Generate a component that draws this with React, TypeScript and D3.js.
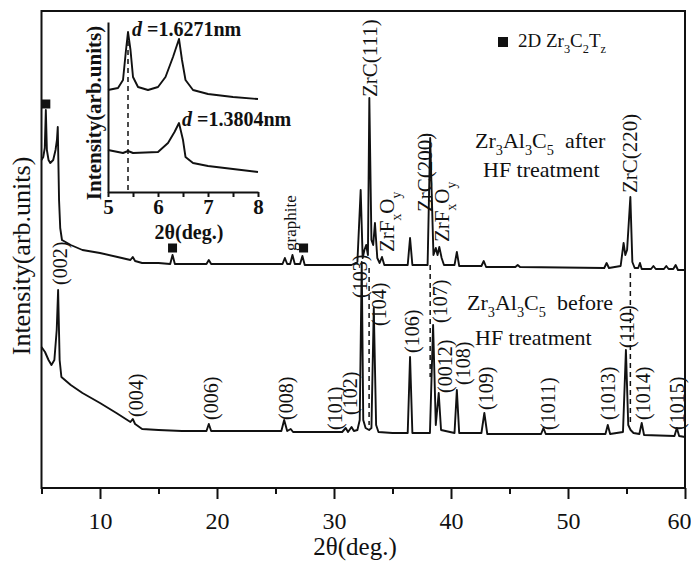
import React, { useEffect, useRef } from "react";
import * as d3 from "d3";

type Pt = [number, number];
type Label = [string, number, number];

// 2θ (deg.) / intensity (arb.units)
const afterHF: Pt[] = [
  [5.0, 328], [5.15, 331], [5.28, 340], [5.37, 378], [5.46, 338], [5.6, 328], [5.75, 325], [6.0, 328],
  [6.2, 338], [6.32, 348], [6.39, 361], [6.5, 288], [6.6, 260], [6.75, 248], [7.5, 243], [8.5, 238],
  [10, 235], [11.5, 231], [12.6, 228], [12.8, 231], [13.0, 227], [13.6, 225], [15, 225], [16.0, 224],
  [16.2, 233], [16.4, 224], [19.1, 224], [19.3, 228], [19.5, 224], [25.6, 224], [25.8, 230], [26.0, 224],
  [26.25, 224], [26.45, 233], [26.65, 224], [27.1, 224], [27.3, 232], [27.5, 223], [31.5, 223], [32.0, 226],
  [32.28, 298], [32.45, 230], [32.6, 238], [32.75, 243], [32.9, 233], [33.02, 390], [33.2, 248], [33.35, 243],
  [33.5, 265], [33.7, 230], [33.9, 225], [34.1, 231], [34.3, 223], [36.3, 223], [36.5, 250], [36.7, 223],
  [38.0, 223], [38.22, 350], [38.5, 233], [38.7, 240], [38.85, 233], [39.0, 241], [39.2, 230], [39.4, 223],
  [40.3, 223], [40.5, 236], [40.7, 222], [42.6, 222], [42.8, 227], [43.0, 221], [45.5, 221], [45.7, 223],
  [45.9, 221], [53.1, 220], [53.3, 225], [53.5, 220], [54.5, 222], [54.75, 245], [54.9, 233], [55.05, 238],
  [55.33, 291], [55.5, 226], [55.7, 220], [56.0, 220], [56.15, 225], [56.3, 219], [57.1, 219], [57.3, 222],
  [57.5, 219], [58.2, 219], [58.4, 222], [58.6, 219], [59.0, 219], [59.2, 223], [59.4, 218], [60, 218],
];

const beforeHF: Pt[] = [
  [5.0, 141], [5.3, 136], [5.6, 128], [5.85, 123], [6.1, 128], [6.3, 158], [6.42, 198], [6.55, 128],
  [6.7, 111], [7.5, 103], [8.5, 95], [10, 85], [11.4, 75], [12.6, 66], [12.8, 69], [13.0, 64],
  [13.6, 59], [15, 58], [17, 57], [19.1, 57], [19.3, 64], [19.5, 57], [22, 57], [25.5, 57],
  [25.74, 68], [26.0, 57], [26.3, 59], [26.5, 56], [28, 56], [30.7, 56], [31.0, 60], [31.2, 56],
  [31.5, 61], [31.7, 57], [32.0, 58], [32.2, 68], [32.37, 226], [32.5, 68], [32.7, 60], [33.0, 58],
  [33.2, 60], [33.4, 180], [33.6, 63], [33.8, 56], [35, 55], [36.3, 55], [36.5, 131], [36.7, 55],
  [38.2, 55], [38.47, 163], [38.7, 63], [38.95, 95], [39.15, 58], [40.3, 55], [40.5, 98], [40.7, 55],
  [42.6, 55], [42.85, 75], [43.1, 54], [47.7, 54], [47.9, 60], [48.1, 54], [50.5, 54], [53.2, 54],
  [53.4, 63], [53.6, 54], [54.7, 56], [54.95, 138], [55.15, 63], [55.35, 58], [55.6, 55], [56.1, 54],
  [56.3, 65], [56.5, 53], [59.1, 52], [59.3, 60], [59.5, 52], [60, 51],
];

// inset, 5-8 deg.
const insetAfter: Pt[] = [
  [5.0, 102], [5.2, 104], [5.3, 112], [5.36, 142], [5.4, 160], [5.45, 142], [5.5, 115], [5.6, 105],
  [5.8, 102], [6.0, 105], [6.15, 115], [6.3, 135], [6.42, 153], [6.48, 132], [6.55, 112], [6.7, 102],
  [7.0, 98], [7.5, 95], [8.0, 93],
];
const insetBefore: Pt[] = [
  [5.0, 42], [5.3, 39], [5.4, 41], [5.5, 39], [6.0, 40], [6.2, 49], [6.33, 60], [6.42, 69],
  [6.5, 52], [6.55, 35], [6.7, 29], [7.0, 26], [7.5, 23], [8.0, 20],
];

const xTicks = [10, 20, 30, 40, 50, 60];
const xMinorTicks = [5, 15, 25, 35, 45, 55];
const insetTicks = [5, 5.5, 6, 6.5, 7, 7.5, 8];

// ■ 2D Zr3C2Tz reflections
const mxenePeaks: Pt[] = [[5.37, 384], [16.2, 240], [27.4, 240]];

// [text, 2θ, intensity at the foot of the label]
const afterLabels: Label[] = [
  ["ZrC(111)", 33.07, 391],
  ["ZrC(200)", 37.78, 276],
  ["ZrC(220)", 55.3, 295],
  ["ZrF_xO_y", 34.53, 236],
  ["ZrF_xO_y", 39.23, 246],
];
const beforeLabels: Label[] = [
  ["(002)", 6.58, 203], ["(004)", 13.08, 71], ["(006)", 19.49, 68], ["(008)", 25.9, 68],
  ["(101)", 30.08, 58], ["(102)", 31.37, 73], ["(103)", 32.22, 190], ["(104)", 33.85, 162],
  ["(106)", 36.67, 135], ["(107)", 39.06, 165], ["(0012)", 39.49, 95], ["(108)", 41.03, 103],
  ["(109)", 42.99, 78], ["(1011)", 48.29, 58], ["(1013)", 53.42, 68], ["(110)", 55.04, 140],
  ["(1014)", 56.41, 68], ["(1015)", 59.32, 58],
];

// ZrC guide lines: [2θ, from, to]
const zrcGuides: [number, number, number][] = [[33.0, 220, 63], [38.22, 223, 111], [55.33, 215, 63]];

const serif = '"Liberation Serif", "Times New Roman", serif';
const ink = "#111";

function rich(sel: any, s: string, size: number) {
  const parts = s.split(/(_.)/).filter((p) => p.length);
  let low = false;
  parts.forEach((p) => {
    const sub = p[0] === "_";
    const t = sel.append("tspan").text(sub ? p.slice(1) : p);
    if (sub) {
      t.attr("font-size", size * 0.65);
      if (!low) t.attr("dy", size * 0.3);
      low = true;
    } else {
      if (low) t.attr("dy", -size * 0.3);
      low = false;
    }
  });
}

export default function App() {
  const ref = useRef<SVGSVGElement>(null);

  useEffect(() => {
    const svg = d3.select(ref.current);
    svg.selectAll("*").remove();
    svg.attr("font-family", serif).attr("fill", ink);

    const x = d3.scaleLinear().domain([5, 60]).range([41.5, 685]);
    const y = d3.scaleLinear().domain([0, 477]).range([488, 11]);

    const line = d3.line<Pt>().x((d) => x(d[0])).y((d) => y(d[1]));

    svg.append("rect")
      .attr("x", 41.5).attr("y", 11).attr("width", 685 - 41.5).attr("height", 477)
      .attr("fill", "none").attr("stroke", ink).attr("stroke-width", 2);

    const ax = svg.append("g").attr("transform", "translate(0,488)")
      .call(d3.axisBottom(x).tickValues(xTicks).tickSize(11).tickPadding(13).tickSizeOuter(0));
    ax.select(".domain").remove();
    ax.selectAll("line").attr("stroke", ink).attr("stroke-width", 2);
    ax.selectAll("text").attr("font-size", 24).attr("font-family", serif).attr("fill", ink)
      .attr("text-anchor", (d) => (d === 60 ? "end" : "middle"))
      .attr("dx", (d) => (d === 60 ? 6 : 0));

    const axm = svg.append("g").attr("transform", "translate(0,488)")
      .call(d3.axisBottom(x).tickValues(xMinorTicks).tickSize(6).tickFormat(() => "").tickSizeOuter(0));
    axm.select(".domain").remove();
    axm.selectAll("line").attr("stroke", ink).attr("stroke-width", 2);

    svg.append("text").attr("x", 355).attr("y", 555).attr("text-anchor", "middle")
      .attr("font-size", 25).text("2θ(deg.)");
    svg.append("text").attr("transform", "translate(21,256) rotate(-90)")
      .attr("text-anchor", "middle").attr("dy", "0.35em").attr("font-size", 26)
      .text("Intensity(arb.units)");

    // guides
    svg.append("g").selectAll("line").data(zrcGuides).join("line")
      .attr("x1", (d) => x(d[0])).attr("x2", (d) => x(d[0]))
      .attr("y1", (d) => y(d[1])).attr("y2", (d) => y(d[2]))
      .attr("stroke", ink).attr("stroke-width", 1.5).attr("stroke-dasharray", "5,4");

    [afterHF, beforeHF].forEach((s) => {
      svg.append("path").attr("d", line(s) as string).attr("fill", "none")
        .attr("stroke", ink).attr("stroke-width", 1.9).attr("stroke-linejoin", "round");
    });

    svg.append("g").selectAll("rect").data(mxenePeaks).join("rect")
      .attr("x", (d) => x(d[0]) - 4.5).attr("y", (d) => y(d[1]) - 4.5)
      .attr("width", 9).attr("height", 9).attr("fill", ink);

    const addRotated = (labels: Label[], size: number) => {
      labels.forEach(([t, p, v]) => {
        const el = svg.append("text")
          .attr("transform", `translate(${x(p)},${y(v)}) rotate(-90)`)
          .attr("dy", "0.35em").attr("font-size", size);
        rich(el, t, size);
      });
    };
    addRotated(afterLabels, 21);
    addRotated(beforeLabels, 20);
    addRotated([["graphite", 26.24, 237]], 17);

    // legend and sample notes
    svg.append("rect").attr("x", 498).attr("y", 37).attr("width", 10).attr("height", 10).attr("fill", ink);
    rich(svg.append("text").attr("x", 518).attr("y", 47).attr("font-size", 19), "2D Zr_3C_2T_z", 19);
    rich(svg.append("text").attr("x", 475).attr("y", 148).attr("font-size", 22), "Zr_3Al_3C_5\u00a0 after", 22);
    svg.append("text").attr("x", 483).attr("y", 177).attr("font-size", 22).text("HF treatment");
    rich(svg.append("text").attr("x", 467).attr("y", 310).attr("font-size", 22), "Zr_3Al_3C_5\u00a0 before", 22);
    svg.append("text").attr("x", 475).attr("y", 345).attr("font-size", 22).text("HF treatment");

    // inset
    const xi = d3.scaleLinear().domain([5, 8]).range([108, 258]);
    const yi = d3.scaleLinear().domain([0, 170]).range([192, 22]);
    const li = d3.line<Pt>().x((d) => xi(d[0])).y((d) => yi(d[1]));

    const ib = svg.append("g").attr("transform", "translate(0,192)")
      .call(d3.axisBottom(xi).tickValues(insetTicks).tickSize(5).tickPadding(2).tickSizeOuter(0)
        .tickFormat((d) => (Number.isInteger(+d) ? String(d) : "")));
    ib.select(".domain").attr("stroke", ink).attr("stroke-width", 2);
    ib.selectAll("line").attr("stroke", ink).attr("stroke-width", 2);
    ib.selectAll("text").attr("font-size", 21).attr("font-weight", "bold")
      .attr("font-family", serif).attr("fill", ink);
    const il = svg.append("g").attr("transform", "translate(108,0)")
      .call(d3.axisLeft(yi).tickValues([]).tickSizeOuter(0));
    il.select(".domain").attr("stroke", ink).attr("stroke-width", 2);

    svg.append("line").attr("x1", xi(5.4)).attr("x2", xi(5.4)).attr("y1", yi(160)).attr("y2", yi(0))
      .attr("stroke", ink).attr("stroke-width", 1.5).attr("stroke-dasharray", "5,4");
    [insetAfter, insetBefore].forEach((s) => {
      svg.append("path").attr("d", li(s) as string).attr("fill", "none")
        .attr("stroke", ink).attr("stroke-width", 1.9).attr("stroke-linejoin", "round");
    });

    svg.append("text").attr("x", 189).attr("y", 239).attr("text-anchor", "middle")
      .attr("font-size", 20).attr("font-weight", "bold").text("2θ(deg.)");
    svg.append("text").attr("transform", "translate(94,113) rotate(-90)")
      .attr("text-anchor", "middle").attr("dy", "0.35em").attr("font-size", 21)
      .attr("font-weight", "bold").text("Intensity(arb.units)");

    const dLabel = (px: number, py: number, val: string) => {
      const t = svg.append("text").attr("x", px).attr("y", py).attr("font-size", 20).attr("font-weight", "bold");
      t.append("tspan").attr("font-style", "italic").text("d");
      t.append("tspan").text("\u00a0=" + val);
    };
    dLabel(132, 36, "1.6271nm");
    dLabel(182, 126, "1.3804nm");
  }, []);

  return (
    <svg ref={ref} width={691} height={561}
      style={{ position: "absolute", left: 0, top: 0, background: "#fff" }} />
  );
}
